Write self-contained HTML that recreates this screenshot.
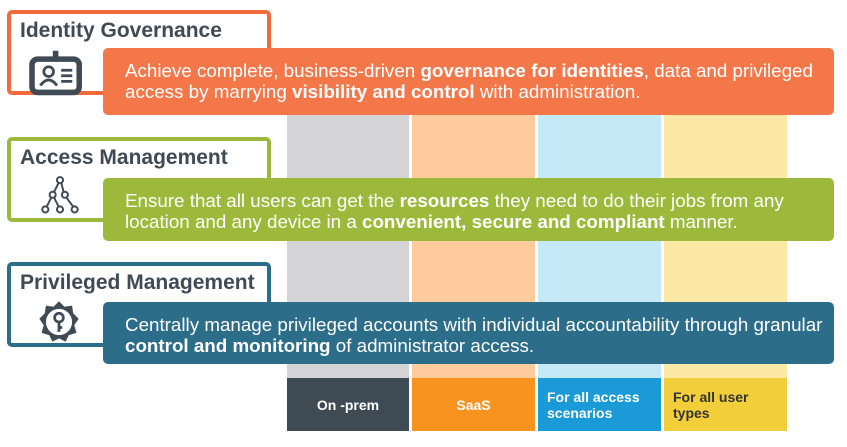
<!DOCTYPE html><html><head><style>
body{margin:0;width:847px;height:447px;background:#fff;position:relative;overflow:hidden;font-family:"Liberation Sans",sans-serif}
div{position:absolute;box-sizing:border-box}
.col{top:115px;height:263px}
.tile{top:378px;height:53px;font-weight:bold;font-size:14px;display:flex;align-items:center}
.hb{left:7px;width:264px;height:85px;border:4px solid;border-radius:5px;background:#fff}
.hb span{position:absolute;left:9px;top:5px;font-size:21px;font-weight:bold;color:#3f4a54;white-space:nowrap}
.bn{left:103px;width:731px;border-radius:5px;color:#fff;font-size:18.8px;line-height:21px;padding:12px 0 0 22px;white-space:nowrap}
</style></head><body>
<div class="col" style="left:287px;width:122px;background:#d4d4d6"></div>
<div class="col" style="left:412px;width:123px;background:#fdcb9c"></div>
<div class="col" style="left:538px;width:123px;background:#c6e9f8"></div>
<div class="col" style="left:664px;width:123px;background:#fbe9a5"></div>
<div class="tile" style="left:287px;width:122px;background:#3e4a54;color:#fff;justify-content:center">On -prem</div>
<div class="tile" style="left:412px;width:123px;background:#f7931e;color:#fff;justify-content:center">SaaS</div>
<div class="tile" style="left:538px;width:123px;background:#1a9ad6;color:#fff;padding-left:9px">For all access<br>scenarios</div>
<div class="tile" style="left:664px;width:123px;background:#f2cf3a;color:#333;padding-left:9px">For all user<br>types</div>

<div class="hb" style="top:10px;border-color:#f26b3a"><span>Identity Governance</span>
<svg style="position:absolute;left:18px;top:34px" width="56" height="50" viewBox="0 0 40 36"><rect x="2" y="8" width="34" height="24" rx="4" fill="none" stroke="#3f4a54" stroke-width="4"/><rect x="17" y="2" width="4" height="7" fill="#3f4a54"/><circle cx="14" cy="17" r="3.5" fill="none" stroke="#3f4a54" stroke-width="2"/><path d="M8 27 Q14 19 20 27" fill="none" stroke="#3f4a54" stroke-width="2"/><path d="M23 16h8M23 20h8M23 24h8" stroke="#3f4a54" stroke-width="2"/></svg></div>
<div class="bn" style="top:48px;height:67px;background:#f4774a">Achieve complete, business-driven <b>governance for identities</b>, data and privileged<br>access by marrying <b>visibility and control</b> with administration.</div>

<div class="hb" style="top:137px;border-color:#9cb93b"><span>Access Management</span>
<svg style="position:absolute;left:27px;top:34px" width="44" height="42" viewBox="0 0 36 34"><g fill="none" stroke="#3f4a54" stroke-width="1.6"><circle cx="18" cy="4" r="2.5"/><circle cx="12" cy="16" r="2.5"/><circle cx="22" cy="16" r="2.5"/><circle cx="6" cy="28" r="2.5"/><circle cx="18" cy="28" r="2.5"/><circle cx="30" cy="28" r="2.5"/><path d="M17 6L13 14M19 6L21 14M11 18L7 26M13 18L17 26M23 18L29 26"/></g></svg></div>
<div class="bn" style="top:178px;height:63px;background:#9cb93b">Ensure that all users can get the <b>resources</b> they need to do their jobs from any<br>location and any device in a <b>convenient, secure and compliant</b> manner.</div>

<div class="hb" style="top:262px;border-color:#2c6e8a"><span>Privileged Management</span>
<svg style="position:absolute;left:24px;top:32px" width="48" height="48" viewBox="0 0 44 44"><path d="M22 3l5 5 7-1 1 7 5 5-4 6 2 7-7 2-3 6-6-3-6 3-3-6-7-2 2-7-4-6 5-5 1-7 7 1z" fill="#3f4a54"/><circle cx="22" cy="22" r="12" fill="#fff"/><circle cx="22" cy="18" r="4" fill="none" stroke="#3f4a54" stroke-width="2.5"/><path d="M22 22v9M22 27h3" stroke="#3f4a54" stroke-width="2.5"/></svg></div>
<div class="bn" style="top:302px;height:62px;background:#2c6e8a">Centrally manage privileged accounts with individual accountability through granular<br><b>control and monitoring</b> of administrator access.</div>
</body></html>
